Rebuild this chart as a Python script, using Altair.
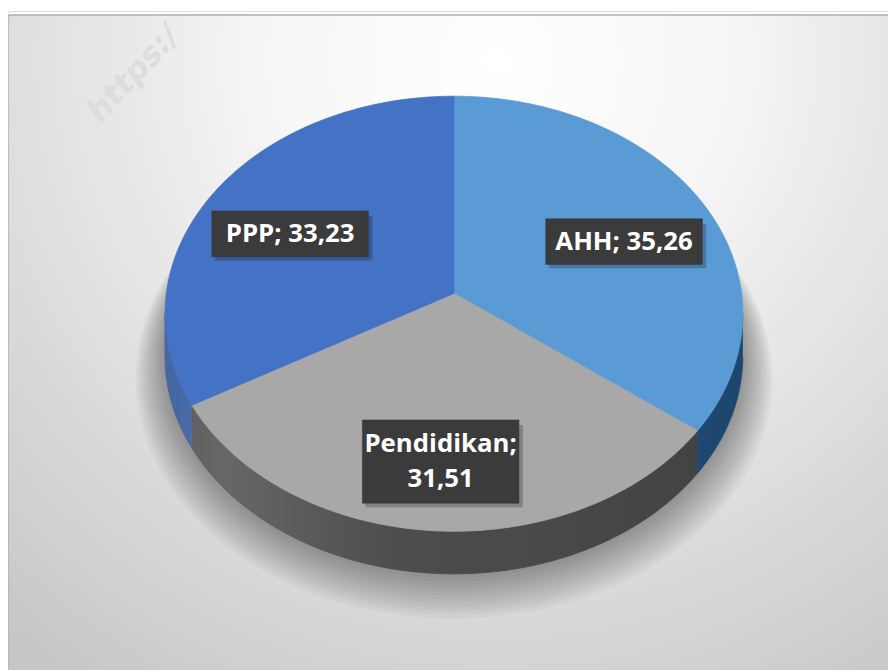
import altair as alt
import pandas as pd

# ---- data ----
categories = ["AHH", "Pendidikan", "PPP"]
values = [35.26, 31.51, 33.23]
top_colors = ["#5B9BD5", "#A8A8A8", "#4472C4"]
side_colors = ["#22507E", "#4A4A4A", "#2F5597"]

# ---- layout / style constants ----
W, H = 888, 662
CX, CY = 450, 285          # pie centre in view pixels
R, S = 290.2, 217.6        # horizontal / vertical radius (px per unit)
K = 0.0934                 # perspective factor
DEPTH = 43                 # wall thickness in px
N = 90                     # points per arc
F = 0.68                   # label radius fraction
LDY = 12                   # label vertical offset px
BW, BH, LH = 158, 46, 38   # label box width, height, extra per line
TLH = 36                   # text line height

df = pd.DataFrame({
    "cat": categories,
    "value": values,
    "tc": top_colors,
    "sc": side_colors,
    "idx": list(range(len(categories))),
})

xs = alt.Scale(domain=[-CX / R, (W - CX) / R], nice=False, zero=False)
ys = alt.Scale(domain=[-(H - CY) / S, CY / S], nice=False, zero=False)


def XY(xf="u", yf="v"):
    return dict(
        x=alt.X(f"{xf}:Q", scale=xs, axis=None),
        y=alt.Y(f"{yf}:Q", scale=ys, axis=None),
    )


U = f"sin(datum.ang) / (1 + {K} * cos(datum.ang))"
V = f"cos(datum.ang) / (1 + {K} * cos(datum.ang))"

base = alt.Chart(df).transform_joinaggregate(
    total="sum(value)"
).transform_window(
    cum="sum(value)", sort=[alt.SortField(field="idx", order="ascending")], frame=[None, 0]
).transform_calculate(
    a1="datum.cum / datum.total * 2 * PI",
    a0="(datum.cum - datum.value) / datum.total * 2 * PI",
)

# background panel
bg = alt.Chart(alt.Data(values=[{"k": 1}])).mark_rect(
    fill={
        "gradient": "radial",
        "x1": 0.55, "y1": 0.18, "r1": 0,
        "x2": 0.55, "y2": 0.18, "r2": 0.85,
        "stops": [
            {"offset": 0, "color": "#ffffff"},
            {"offset": 0.3, "color": "#f6f6f6"},
            {"offset": 1, "color": "#c6c6c6"},
        ],
    },
    stroke="#b0b0b0", strokeWidth=1.5, cornerRadius=3,
).encode(x=alt.value(0), x2=alt.value(W + 10), y=alt.value(4), y2=alt.value(H + 10))

watermark = alt.Chart(alt.Data(values=[{"t": "https:/"}])).mark_text(
    font="DejaVu Sans", fontSize=32, fontWeight="bold", fontStyle="italic",
    color="#dddddd", angle=313, align="left", baseline="alphabetic",
).encode(x=alt.value(93), y=alt.value(114), text="t:N")

# soft shadow under the pie
shadow = alt.Chart(alt.sequence(1, 13, as_="layer")).transform_calculate(
    seq=f"sequence(0, {N * 2 + 1})"
).transform_flatten(["seq"], as_=["i"]).transform_calculate(
    ang=f"datum.i / {N * 2} * 2 * PI",
    sc="1 + 0.0085 * datum.layer",
    u=f"datum.sc * {U}",
    v=f"datum.sc * {V} - ({DEPTH} + 1.7 * datum.layer) / {S}",
).mark_line(filled=True, fill="#000000", fillOpacity=0.032, strokeOpacity=0).encode(
    **XY(), order="i:Q", detail="layer:N"
)

# side walls (front half only)
LO = f"acos(-{K})"
HI = f"(2 * PI - acos(-{K}))"
walls = base.transform_calculate(
    w0=f"max(datum.a0, {LO})",
    w1=f"min(datum.a1, {HI})",
).transform_filter("datum.w1 > datum.w0").transform_calculate(
    seq=f"sequence(0, {2 * N + 2})"
).transform_flatten(["seq"], as_=["i"]).transform_calculate(
    j=f"datum.i <= {N} ? datum.i : {2 * N + 1} - datum.i",
    ang=f"datum.w0 + (datum.w1 - datum.w0) * datum.j / {N}",
    u=U,
    v=f"{V} - (datum.i > {N} ? {DEPTH / S} : 0)",
).mark_line(filled=True, strokeWidth=0.8).encode(
    **XY(), order="i:Q", detail="cat:N",
    fill=alt.Fill("sc:N", scale=None), stroke=alt.Stroke("sc:N", scale=None),
)

# lighting over the whole wall
wall_light = alt.Chart(alt.sequence(0, 2 * N + 2, as_="i")).transform_calculate(
    w0=LO, w1=HI,
).transform_calculate(
    j=f"datum.i <= {N} ? datum.i : {2 * N + 1} - datum.i",
    ang=f"datum.w0 + (datum.w1 - datum.w0) * datum.j / {N}",
    u=U,
    v=f"{V} - (datum.i > {N} ? {DEPTH / S} : 0)",
).mark_line(
    filled=True, strokeOpacity=0,
    fill={
        "gradient": "linear", "x1": 0, "y1": 0, "x2": 1, "y2": 0,
        "stops": [
            {"offset": 0, "color": "rgba(255,255,255,0.10)"},
            {"offset": 0.1, "color": "rgba(255,255,255,0.16)"},
            {"offset": 0.35, "color": "rgba(255,255,255,0.04)"},
            {"offset": 0.6, "color": "rgba(0,0,0,0)"},
            {"offset": 1, "color": "rgba(0,0,0,0.12)"},
        ],
    },
).encode(**XY(), order="i:Q")

# top faces
top = base.transform_calculate(
    seq=f"sequence(0, {N + 3})"
).transform_flatten(["seq"], as_=["i"]).transform_calculate(
    ang=f"datum.a0 + (datum.a1 - datum.a0) * (datum.i > {N} ? 0 : datum.i) / {N}",
    rr=f"datum.i == {N + 1} ? 0 : 1",
    u=f"datum.rr * {U}",
    v=f"datum.rr * {V}",
).mark_line(filled=True, strokeWidth=0.8, strokeJoin="round").encode(
    **XY(), order="i:Q", detail="cat:N",
    fill=alt.Fill("tc:N", scale=None), stroke=alt.Stroke("tc:N", scale=None),
)

# labels
lab = base.transform_calculate(
    ang="(datum.a0 + datum.a1) / 2",
    u=f"{F} * sin(datum.ang) / (1 + {K} * {F} * cos(datum.ang))",
    v=f"{F} * cos(datum.ang) / (1 + {K} * {F} * cos(datum.ang)) - {LDY / S}",
    vs="replace(format(datum.value, '.2f'), '.', ',')",
    label="length(datum.cat) > 6 ? [datum.cat + ';', datum.vs] : datum.cat + '; ' + datum.vs",
    nl="isArray(datum.label) ? length(datum.label) : 1",
    tv=f"datum.v + (datum.nl - 1) * {TLH} / 2 / {S}",
    bx0=f"datum.u - {BW / 2 / R}",
    bx1=f"datum.u + {BW / 2 / R}",
    by0=f"datum.v - ({BH} + {LH} * (datum.nl - 1)) / 2 / {S}",
    by1=f"datum.v + ({BH} + {LH} * (datum.nl - 1)) / 2 / {S}",
)

box_enc = dict(
    x=alt.X("bx0:Q", scale=xs, axis=None),
    x2="bx1:Q",
    y=alt.Y("by0:Q", scale=ys, axis=None),
    y2="by1:Q",
)
box_shadow = lab.mark_rect(fill="#000000", opacity=0.22, xOffset=3, x2Offset=4, yOffset=4, y2Offset=5).encode(**box_enc)
boxes = lab.mark_rect(fill="#3b3b3b", stroke="#333333", strokeWidth=0.5).encode(**box_enc)
texts = lab.mark_text(
    font="Open Sans", fontSize=26, fontWeight="bold", color="#ffffff",
    align="center", baseline="middle", lineHeight=TLH,
).encode(**XY("u", "tv"), text="label:N")

chart = alt.layer(
    bg, watermark, shadow, walls, wall_light, top, box_shadow, boxes, texts
).properties(
    width=W, height=H, padding=0,
    autosize=alt.AutoSizeParams(type="none"),
).configure_view(stroke=None).configure(background="#ffffff")

chart.save("out.html", embed_options={"renderer": "svg", "actions": False})
